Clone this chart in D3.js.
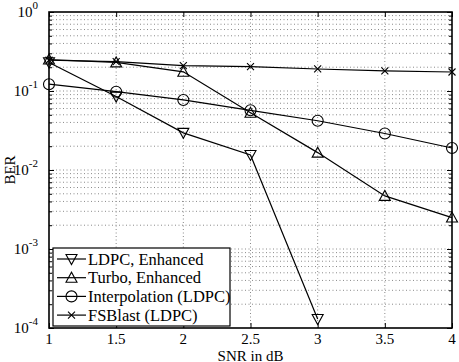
<!DOCTYPE html>
<html>
<head>
<meta charset="utf-8">
<script src="https://cdn.jsdelivr.net/npm/d3@7"></script>
<style>
  body { margin: 0; background: #fff; }
  svg { display: block; font-family: "Liberation Serif", "Times New Roman", serif; }
</style>
</head>
<body>
<div id="chart"></div>
<script>
// data
const snr = [1, 1.5, 2, 2.5, 3, 3.5, 4];
const ldpcEnhanced = [0.23, 0.085, 0.0295, 0.0155, 0.00013];
const turboEnhanced = [0.25, 0.23, 0.175, 0.053, 0.0166, 0.0047, 0.0025];
const interpolation = [0.122, 0.098, 0.077, 0.057, 0.042, 0.029, 0.019];
const fsblast = [0.245, 0.235, 0.21, 0.203, 0.19, 0.18, 0.174];
const xTicks = [1, 1.5, 2, 2.5, 3, 3.5, 4];
const yDecades = [0, -1, -2, -3, -4];
const seriesNames = ["LDPC, Enhanced", "Turbo, Enhanced", "Interpolation (LDPC)", "FSBlast (LDPC)"];

(function () {
    "use strict";
    const width = 459, height = 362;
    const m = { left: 49, right: 7, top: 12, bottom: 34 };
    const pw = width - m.left - m.right, ph = height - m.top - m.bottom;

    const svg = d3.select("#chart").append("svg")
        .attr("width", width).attr("height", height);
    const g = svg.append("g").attr("transform", `translate(${m.left},${m.top})`);

    const x = d3.scaleLinear().domain([1, 4]).range([0, pw]);
    const y = d3.scaleLog().domain([1e-4, 1]).range([ph, 0]);

    // minor values for grid/ticks
    const minors = [];
    [-4, -3, -2, -1].forEach(d => {
        for (let k = 2; k <= 9; k++) minors.push(k * Math.pow(10, d));
    });

    // grid
    const grid = g.append("g").attr("stroke", "#8a8a8a").attr("stroke-width", 1)
        .attr("stroke-dasharray", "1,2.5");
    grid.selectAll("line.v").data(xTicks.slice(1, -1)).enter().append("line")
        .attr("x1", d => x(d)).attr("x2", d => x(d)).attr("y1", 0).attr("y2", ph);
    grid.selectAll("line.h").data(minors.concat([1e-3, 1e-2, 1e-1])).enter().append("line")
        .attr("x1", 0).attr("x2", pw).attr("y1", d => y(d)).attr("y2", d => y(d));

    // axes with ticks pointing inward
    const yTickVals = yDecades.map(e => Math.pow(10, e));
    g.append("g").call(d3.axisBottom(x).tickValues(xTicks).tickSize(-5).tickFormat(""))
        .attr("transform", `translate(0,${ph})`);
    g.append("g").call(d3.axisTop(x).tickValues(xTicks).tickSize(-5).tickFormat(""));
    g.append("g").call(d3.axisLeft(y).tickValues(yTickVals).tickSize(-5).tickFormat(""));
    g.append("g").call(d3.axisLeft(y).tickValues(minors).tickSize(-3).tickFormat(""));
    g.append("g").call(d3.axisRight(y).tickValues(yTickVals).tickSize(-5).tickFormat(""))
        .attr("transform", `translate(${pw},0)`);
    g.append("g").call(d3.axisRight(y).tickValues(minors).tickSize(-3).tickFormat(""))
        .attr("transform", `translate(${pw},0)`);
    g.selectAll(".domain").remove();
    g.selectAll(".tick line").attr("stroke", "#000");

    // x tick labels
    g.selectAll("text.xl").data(xTicks).enter().append("text")
        .attr("x", d => x(d)).attr("y", ph + 16)
        .attr("text-anchor", "middle").attr("font-size", 15)
        .text(d => d);

    // y tick labels with superscripts
    yDecades.forEach(e => {
        const t = g.append("text").attr("x", -11).attr("y", y(Math.pow(10, e)) + 5)
            .attr("text-anchor", "end").attr("font-size", 15);
        t.append("tspan").text("10");
        t.append("tspan").attr("dy", -8).attr("font-size", 11).text(e);
    });

    svg.append("text").attr("x", m.left + pw / 2).attr("y", height - 1.5)
        .attr("text-anchor", "middle").attr("font-size", 15).text("SNR in dB");
    svg.append("text").attr("transform", `translate(15,${m.top + ph / 2}) rotate(-90)`)
        .attr("text-anchor", "middle").attr("font-size", 15).text("BER");

    // frame
    g.append("rect").attr("width", pw).attr("height", ph)
        .attr("fill", "none").attr("stroke", "#000").attr("stroke-width", 1.6);

    // markers
    function marker(sel, type) {
        if (type === "down") sel.append("path").attr("d", "M-5.5,-4.5L5.5,-4.5L0,5.5Z");
        else if (type === "up") sel.append("path").attr("d", "M-5.5,4.5L5.5,4.5L0,-5.5Z");
        else if (type === "circle") sel.append("circle").attr("r", 5.5);
        else sel.append("path").attr("d", "M-3.5,-3.5L3.5,3.5M-3.5,3.5L3.5,-3.5");
    }

    const series = [
        { vals: ldpcEnhanced, type: "down" },
        { vals: turboEnhanced, type: "up" },
        { vals: interpolation, type: "circle" },
        { vals: fsblast, type: "x" }
    ];
    const line = d3.line().x(d => x(d[0])).y(d => y(d[1]));

    series.forEach(s => {
        const pts = s.vals.map((v, i) => [snr[i], v]);
        g.append("path").datum(pts).attr("d", line)
            .attr("fill", "none").attr("stroke", "#000").attr("stroke-width", 1.2);
        pts.forEach(p => {
            const mk = g.append("g").attr("transform", `translate(${x(p[0])},${y(p[1])})`)
                .attr("fill", "none").attr("stroke", "#000").attr("stroke-width", 1.1);
            marker(mk, s.type);
        });
    });

    // legend
    const lg = svg.append("g").attr("transform", "translate(53,248)");
    lg.append("rect").attr("width", 177).attr("height", 78)
        .attr("fill", "#fff").attr("stroke", "#000").attr("stroke-width", 1.2);
    seriesNames.forEach((name, i) => {
        const yy = 11 + i * 18.7;
        lg.append("line").attr("x1", 4).attr("x2", 33).attr("y1", yy).attr("y2", yy)
            .attr("stroke", "#000").attr("stroke-width", 1.2);
        const mk = lg.append("g").attr("transform", `translate(18.5,${yy})`)
            .attr("fill", "none").attr("stroke", "#000").attr("stroke-width", 1.1);
        marker(mk, series[i].type);
        lg.append("text").attr("x", 35).attr("y", yy + 5.5).attr("font-size", 16.5).text(name);
    });
})();
</script>
</body>
</html>
